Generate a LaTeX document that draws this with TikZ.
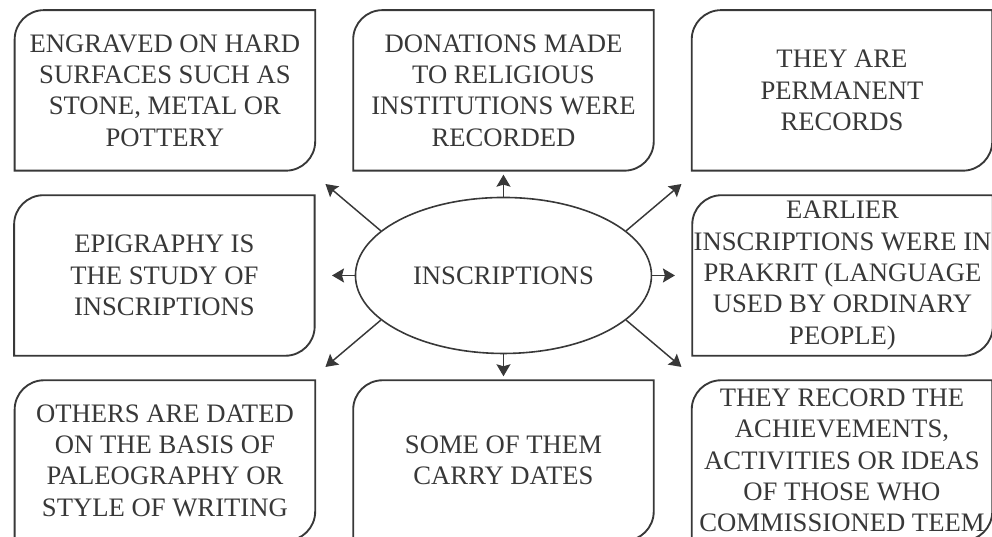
\documentclass[tikz,border=0pt]{standalone}
\usepackage{fontspec}
\setmainfont{Liberation Serif}
\usetikzlibrary{positioning, arrows.meta, shapes}
\definecolor{gris}{HTML}{383838}

% contorno con dos esquinas redondeadas
\newcommand{\contorno}[1]{%
  \draw[borde] ([xshift=22pt]#1.north west) -- (#1.north east) -- ([yshift=22pt]#1.south east)
    arc[start angle=0, end angle=-90, radius=22pt] -- (#1.south west)
    -- ([yshift=-22pt]#1.north west) arc[start angle=180, end angle=90, radius=22pt] -- cycle;}

\begin{document}
\begin{tikzpicture}[
    caja/.style={
        rectangle,
        align=center,
        text=gris,
        font=\fontsize{20pt}{23.5pt}\selectfont,
        inner sep=0pt,
        minimum width=225pt,
        minimum height=120pt,
    },
    borde/.style={draw=gris, line width=1.4pt},
    elipse/.style={ellipse, draw=gris, line width=1.2pt, text=gris,
        font=\fontsize{20pt}{23.5pt}\selectfont,
        inner sep=0pt, minimum width=222pt, minimum height=117pt},
    arr/.style={-{Stealth[length=9pt,width=10.5pt,inset=1.5pt]}, line width=1.1pt, draw=gris}
]

\useasboundingbox (-377.6pt,-196.1pt) rectangle (366.4pt,206.6pt);

% Nodos
\node[elipse] (inscriptions) at (0,0) {INSCRIPTIONS};
\node[caja, above=19.5pt of inscriptions] (donations) {DONATIONS MADE\\TO RELIGIOUS\\INSTITUTIONS WERE\\RECORDED};
\node[caja, left=28.5pt of donations] (engraved) {ENGRAVED ON HARD\\SURFACES SUCH AS\\STONE, METAL OR\\POTTERY};
\node[caja, right=28.5pt of donations] (permanent) {THEY ARE\\PERMANENT\\RECORDS};
\node[caja, left=30pt of inscriptions] (epigraphy) {EPIGRAPHY IS\\THE STUDY OF\\INSCRIPTIONS};
\node[caja, right=30pt of inscriptions] (prakrit) {EARLIER\\INSCRIPTIONS WERE IN\\PRAKRIT (LANGUAGE\\USED BY ORDINARY\\PEOPLE)};
\node[caja, below=19.5pt of inscriptions] (dates) {SOME OF THEM\\CARRY DATES};
\node[caja, left=28.5pt of dates] (others) {OTHERS ARE DATED\\ON THE BASIS OF\\PALEOGRAPHY OR\\STYLE OF WRITING};
\node[caja, right=28.5pt of dates] (achievements) {THEY RECORD THE\\ACHIEVEMENTS,\\ACTIVITIES OR IDEAS\\OF THOSE WHO\\COMMISSIONED TEEM};

\foreach \n in {engraved, donations, permanent, epigraphy, prakrit, others, dates, achievements}
  \contorno{\n};

% Puntas de las flechas diagonales
\coordinate (fin_no) at (-133.5pt,68.6pt);
\coordinate (fin_ne) at (133.5pt,68.6pt);
\coordinate (fin_so) at (-133.5pt,-68.6pt);
\coordinate (fin_se) at (133.5pt,-68.6pt);

% Conexiones
\draw[arr, shorten >=3pt] (inscriptions) -- (donations);
\draw[arr, shorten >=3pt] (inscriptions) -- (dates);
\draw[arr, shorten >=13pt] (inscriptions) -- (epigraphy);
\draw[arr, shorten >=13pt] (inscriptions) -- (prakrit);
\draw[arr] (inscriptions.160) -- (fin_no);
\draw[arr] (inscriptions.20) -- (fin_ne);
\draw[arr] (inscriptions.200) -- (fin_so);
\draw[arr] (inscriptions.340) -- (fin_se);

\end{tikzpicture}
\end{document}
